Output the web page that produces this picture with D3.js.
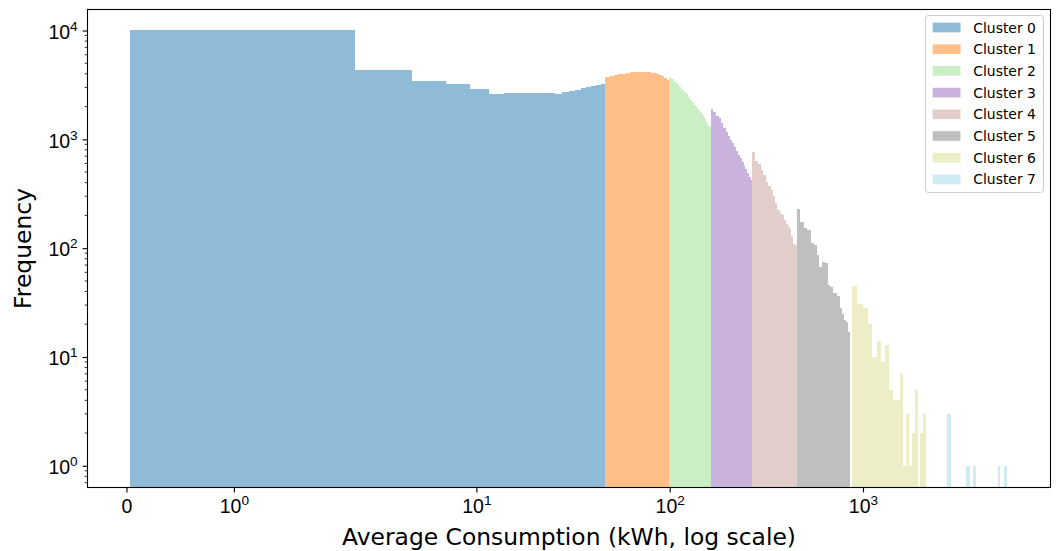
<!DOCTYPE html>
<html>
<head>
<meta charset="utf-8">
<script src="https://cdn.jsdelivr.net/npm/d3@7"></script>
<style>
body { margin: 0; background: #fff; }
svg { display: block; font-family: 'DejaVu Sans', sans-serif; }
</style>
</head>
<body>
<svg id="chart"></svg>
<script>
// every cluster is histogrammed on its own, 20 equal-width bins over its range
var clusterNames = ['Cluster 0', 'Cluster 1', 'Cluster 2', 'Cluster 3', 'Cluster 4', 'Cluster 5', 'Cluster 6', 'Cluster 7'];
var binRanges = [[0.037, 46.2], [46.2, 98.9], [98.9, 163.3], [163.3, 267], [267, 454.6], [454.6, 857], [872, 2106], [2722, 5527]];

var counts0 = [10050, 4350, 3430, 3200, 2880, 2590, 2650, 2660, 2650, 2640, 2640, 2590, 2700, 2780, 2850, 2950, 3020, 3080, 3150, 3250];
var counts1 = [3710, 3820, 3900, 3950, 3990, 4080, 4120, 4120, 4160, 4200, 4160, 4200, 4150, 4110, 4035, 3990, 3900, 3790, 3660, 3475];
var counts2 = [3745, 3552, 3384, 3196, 3000, 2851, 2721, 2604, 2454, 2313, 2185, 2073, 1966, 1869, 1769, 1661, 1559, 1438, 1358, 1289];
var counts3 = [1905, 1769, 1643, 1559, 1402, 1275, 1167, 1072, 979, 919, 845, 781, 724, 669, 615, 571, 531, 493, 448, 421];
var counts4 = [760, 628, 590, 519, 467, 403, 371, 340, 300, 259, 223, 207, 201, 181, 168, 156, 149, 129, 110, 107];
var counts5 = [228, 173, 153, 146, 111, 107, 86, 67, 74, 73, 46, 44, 39, 39, 36, 28, 25, 22, 21, 17];
var counts6 = [45, 31, 28, 20, 10, 14, 9, 13, 5, 4, 4, 7, 1, 3, 1, 2, 5, 0, 2, 3];
var counts7 = [3, 0, 0, 0, 0, 1, 0, 1, 0, 0, 0, 0, 0, 0, 0, 0, 1, 0, 0, 1];
var allCounts = [counts0, counts1, counts2, counts3, counts4, counts5, counts6, counts7];

var xTickValues = [0, 1, 10, 100, 1000];
var yTickValues = [1, 10, 100, 1000, 10000];
var xLimits = [-0.363, 9330];
var yLimits = [0.632, 15600];

// tab20 picks
var clusterColors = ['#1f77b4', '#ff7f0e', '#98df8a', '#9467bd', '#c49c94', '#7f7f7f', '#dbdb8d', '#9edae5'];

// symlog like matplotlib: linthresh 2, linscale 1
var linthresh = 2;
var linAdj = 1 / (1 - 1 / 10);
function symlog(v)
{
	var a = Math.abs(v);
	if(a <= linthresh) return v * linAdj;
	return (v < 0 ? -1 : 1) * linthresh * (linAdj + Math.log10(a / linthresh));
}

var svgWidth = 1062;
var svgHeight = 551;
var plot = {left: 87.5, right: 1050.5, top: 9.5, bottom: 487.5};
var tickFont = 19.5;
var labelFont = 23.4;

var svg = d3.select('#chart')
	.attr('width', svgWidth)
	.attr('height', svgHeight);

var x = d3.scaleLinear()
	.domain(xLimits.map(symlog))
	.range([plot.left, plot.right]);

var y = d3.scaleLog()
	.domain(yLimits)
	.range([plot.bottom, plot.top]);

svg.append('clipPath').attr('id', 'plotClip')
	.append('rect')
	.attr('x', plot.left)
	.attr('y', plot.top)
	.attr('width', plot.right - plot.left)
	.attr('height', plot.bottom - plot.top);

var area = d3.area()
	.curve(d3.curveStepAfter)
	.x(function(d) { return x(symlog(d.edge)); })
	.y0(plot.bottom)
	.y1(function(d) { return d.count > 0 ? y(d.count) : plot.bottom; });

var bars = svg.append('g').attr('clip-path', 'url(#plotClip)');
for(var c = 0; c < allCounts.length; c++)
{
	var counts = allCounts[c];
	var lo = binRanges[c][0];
	var w = (binRanges[c][1] - lo) / counts.length;
	var pts = d3.range(counts.length + 1).map(function(i)
	{
		return {edge: lo + i * w, count: counts[Math.min(i, counts.length - 1)]};
	});
	bars.append('path')
		.datum(pts)
		.attr('d', area)
		.attr('fill', clusterColors[c])
		.attr('fill-opacity', 0.5)
		.attr('shape-rendering', 'crispEdges');
}

// x axis
var xAxis = svg.append('g')
	.attr('transform', 'translate(0,' + plot.bottom + ')')
	.call(d3.axisBottom(x)
		.tickValues(xTickValues.map(symlog))
		.tickSize(4.9)
		.tickPadding(4.9));
xAxis.select('.domain').remove();
xAxis.selectAll('.tick line').attr('stroke', '#000').attr('stroke-width', 1.1);
xAxis.selectAll('.tick text')
	.attr('font-size', tickFont)
	.attr('fill', '#000')
	.attr('dy', '0.8em')
	.text(null)
	.each(function(d, i)
	{
		var t = d3.select(this);
		var v = xTickValues[i];
		if(v == 0)
		{
			t.text('0');
			return;
		}
		t.append('tspan').text('10');
		t.append('tspan').attr('dy', -8).attr('font-size', tickFont * 0.7).text(Math.round(Math.log10(v)));
	});

// y axis
var yAxis = svg.append('g')
	.attr('transform', 'translate(' + plot.left + ',0)')
	.call(d3.axisLeft(y)
		.tickValues(yTickValues)
		.tickSize(4.9)
		.tickPadding(4.9));
yAxis.select('.domain').remove();
yAxis.selectAll('.tick line').attr('stroke', '#000').attr('stroke-width', 1.1);
yAxis.selectAll('.tick text')
	.attr('font-size', tickFont)
	.attr('fill', '#000')
	.attr('dy', '0.4em')
	.text(null)
	.each(function(d)
	{
		var t = d3.select(this);
		t.append('tspan').text('10');
		t.append('tspan').attr('dy', -8).attr('font-size', tickFont * 0.7).text(Math.round(Math.log10(d)));
	});

// minor ticks on the log axis
var minorTicks = [];
for(var e = -1; e <= 4; e++)
{
	for(var m = 2; m <= 9; m++)
	{
		var v = m * Math.pow(10, e);
		if(v > yLimits[0] && v < yLimits[1]) minorTicks.push(v);
	}
}
svg.append('g').selectAll('line')
	.data(minorTicks)
	.enter()
	.append('line')
	.attr('x1', plot.left - 2.8)
	.attr('x2', plot.left)
	.attr('y1', function(d) { return y(d); })
	.attr('y2', function(d) { return y(d); })
	.attr('stroke', '#000')
	.attr('stroke-width', 0.8);

// frame
svg.append('rect')
	.attr('x', plot.left)
	.attr('y', plot.top)
	.attr('width', plot.right - plot.left)
	.attr('height', plot.bottom - plot.top)
	.attr('fill', 'none')
	.attr('stroke', '#000')
	.attr('stroke-width', 1.1);

// axis titles
svg.append('text')
	.attr('x', (plot.left + plot.right) / 2)
	.attr('y', 545)
	.attr('text-anchor', 'middle')
	.attr('font-size', labelFont)
	.text('Average Consumption (kWh, log scale)');

svg.append('text')
	.attr('transform', 'translate(30.5,' + ((plot.top + plot.bottom) / 2) + ') rotate(-90)')
	.attr('text-anchor', 'middle')
	.attr('font-size', labelFont)
	.text('Frequency');

// legend
var legend = svg.append('g');
legend.append('rect')
	.attr('x', 925.5)
	.attr('y', 15.5)
	.attr('width', 118)
	.attr('height', 177)
	.attr('rx', 3)
	.attr('fill', '#fff')
	.attr('fill-opacity', 0.8)
	.attr('stroke', '#cccccc');

var items = legend.selectAll('g.item')
	.data(clusterNames)
	.enter()
	.append('g')
	.attr('class', 'item')
	.attr('transform', function(d, i) { return 'translate(0,' + (27.5 + i * 21.7) + ')'; });

items.append('rect')
	.attr('x', 932.7)
	.attr('y', -4.85)
	.attr('width', 27.8)
	.attr('height', 9.7)
	.attr('fill', function(d, i) { return clusterColors[i]; })
	.attr('fill-opacity', 0.5);

items.append('text')
	.attr('x', 973.3)
	.attr('y', 5)
	.attr('font-size', 13.9)
	.attr('fill', '#000')
	.text(function(d) { return d; });
</script>
</body>
</html>
